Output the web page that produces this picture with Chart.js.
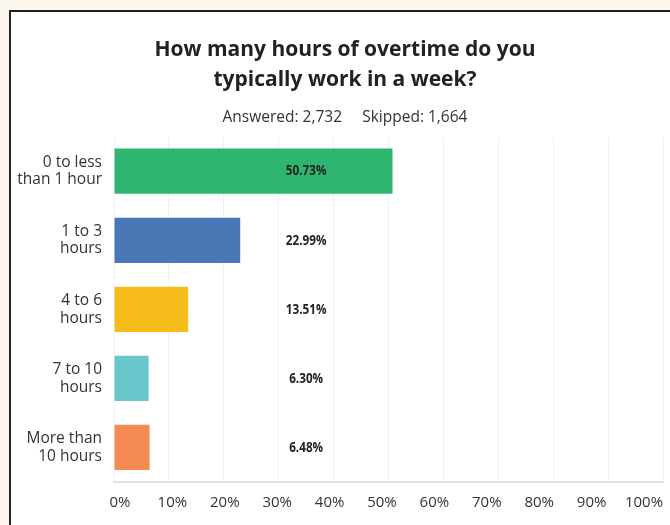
<!DOCTYPE html>
<html>
<head>
<meta charset="utf-8">
<script src="https://cdn.jsdelivr.net/npm/chart.js@4"></script>
<style>
  html, body { margin: 0; padding: 0; background: #fdf8ee; }
  #wrap { position: relative; width: 670px; height: 525px; overflow: hidden; }
  #panel { position: absolute; left: 9px; top: 10px; width: 700px; height: 560px;
           background: #fff; border-left: 2px solid #222; border-top: 2px solid #222; }
  #c { position: absolute; left: 0; top: 0; }
</style>
</head>
<body>
<div id="wrap">
  <div id="panel"></div>
  <canvas id="c" width="690" height="525"></canvas>
</div>
<script>
// data
const categories = [
    ["0 to less", "than 1 hour"],
    ["1 to 3", "hours"],
    ["4 to 6", "hours"],
    ["7 to 10", "hours"],
    ["More than", "10 hours"]
];
const percents = [50.73, 22.99, 13.51, 6.30, 6.48];
const barColors = ["#2eb671", "#4a78b6", "#f6bd1a", "#69c6cb", "#f58a52"];
const tickValues = [0, 10, 20, 30, 40, 50, 60, 70, 80, 90, 100];
const titleLines = ["How many hours of overtime do you", "typically work in a week?"];
const subtitleText = "Answered: 2,732     Skipped: 1,664";

const FONT = "'Open Sans', 'Noto Sans', sans-serif";

/* Percent labels in a column inside the plot, drawn condensed */
const valueLabels = {
    id: "valueLabels",
    afterDatasetsDraw(chart) {
        const ctx = chart.ctx;
        const xs = chart.scales.x;
        const meta = chart.getDatasetMeta(0);
        meta.data.forEach((bar, i) => {
            ctx.save();
            ctx.translate(xs.getPixelForValue(35), bar.y);
            ctx.scale(0.78, 1);
            ctx.font = "bold 15px " + FONT;
            ctx.fillStyle = "#222";
            ctx.textAlign = "center";
            ctx.textBaseline = "middle";
            ctx.fillText(percents[i].toFixed(2) + "%", 0, 0);
            ctx.restore();
        });
    }
};

new Chart(document.getElementById("c"), {
    type: "bar",
    data: {
        labels: categories,
        datasets: [{
            data: percents,
            backgroundColor: barColors,
            borderWidth: 0,
            barPercentage: 0.655,
            categoryPercentage: 1
        }]
    },
    options: {
        indexAxis: "y",
        responsive: false,
        animation: false,
        layout: { padding: { left: 0, right: 0, top: 20, bottom: 0 } },
        plugins: {
            legend: { display: false },
            tooltip: { enabled: false },
            title: {
                display: true,
                text: titleLines,
                color: "#222",
                font: { family: FONT, size: 21, weight: "bold", lineHeight: 1.43 },
                padding: { top: 15, bottom: 10 }
            },
            subtitle: {
                display: true,
                text: subtitleText,
                color: "#333",
                font: { family: FONT, size: 15.5, lineHeight: 1.2 },
                padding: { top: 3, bottom: 10 }
            }
        },
        scales: {
            x: {
                min: 0, max: 100,
                weight: 0,
                ticks: { display: false, stepSize: 10 },
                grid: { color: "#edf2f7", lineWidth: 1, drawTicks: false },
                border: { display: true, color: "#dce4ea", width: 2 },
                afterFit(s) { s.height = 0; }
            },
            xLabels: {
                type: "linear",
                position: "bottom",
                axis: "x",
                weight: 1,
                min: -1.145, max: 103.63,
                grid: { display: false, drawTicks: false },
                border: { display: false },
                ticks: {
                    padding: 12,
                    color: "#333",
                    font: { family: FONT, size: 15 },
                    callback: v => v + "%"
                },
                afterBuildTicks(s) { s.ticks = tickValues.map(v => ({ value: v })); },
                afterFit(s) { s.height = 43; }
            },
            y: {
                grid: { display: false, drawTicks: false },
                border: { display: false },
                ticks: {
                    padding: 12,
                    color: "#333",
                    font: { family: FONT, size: 15.5, lineHeight: 1.13 }
                },
                afterFit(s) { s.width = 114; }
            },
            // empty strip on the right so the title centres like the original
            yRight: {
                type: "category",
                position: "right",
                axis: "y",
                grid: { display: false, drawTicks: false },
                border: { display: false },
                ticks: { display: false },
                afterFit(s) { s.width = 27; }
            }
        }
    },
    plugins: [valueLabels]
});
</script>
</body>
</html>
